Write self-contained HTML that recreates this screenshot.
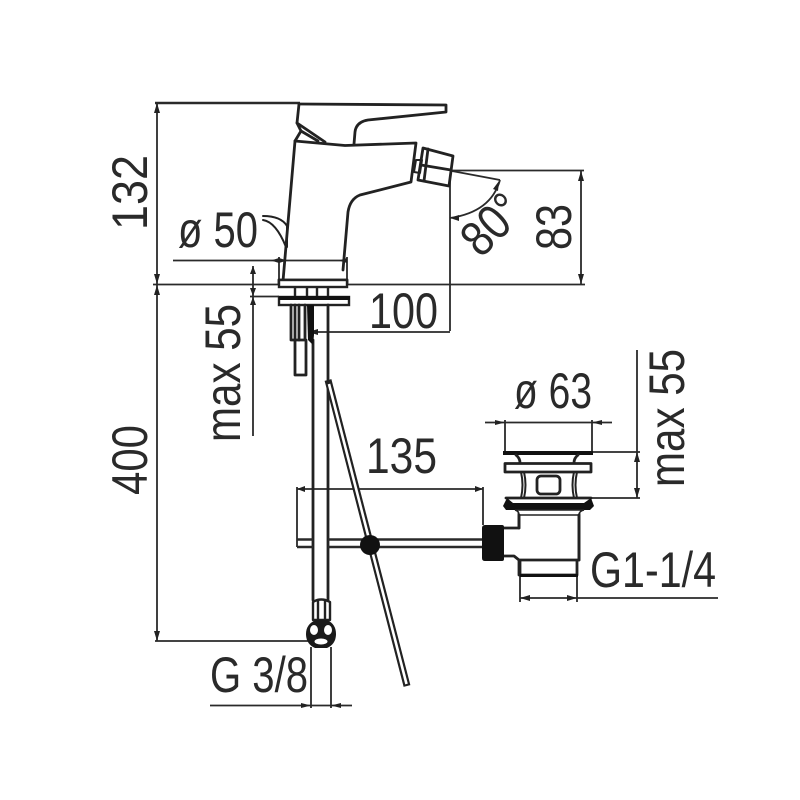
<!DOCTYPE html>
<html><head><meta charset="utf-8"><style>
html,body{margin:0;padding:0;background:#fff}
svg{display:block}
text{font-family:"Liberation Sans",sans-serif;fill:#2a2a2a;font-size:50px}
.d{stroke:#2a2a2a;stroke-width:1.8;fill:none}
.o{stroke:#222;stroke-width:2.8;fill:none;stroke-linejoin:round;stroke-linecap:round}
.w{stroke:#222;stroke-width:2.4;fill:#fff}
</style></head><body>
<svg width="800" height="800" viewBox="0 0 800 800" xmlns="http://www.w3.org/2000/svg">
<!-- dimension lines -->
<g class="d">
<path d="M155 103H300" style="stroke-width:2.6"/>
<path d="M157 103V641"/>
<path d="M153 284.500H585"/>
<path d="M155 641H309"/>
<path d="M450 180V331"/>
<path d="M451 170.500H584"/>
<path d="M581 171V284"/>
<path d="M452 171L500 180"/>
<path d="M500 180Q491 212 450 218"/>
<path d="M173 260.500H347"/>
<path d="M279 257V281M347 257V281"/>
<path d="M253 266V436"/>
<path d="M250 296.500H279"/>
<path d="M315 332H450"/>
<path d="M297 489H483"/>
<path d="M297 487V547M483 487V525"/>
<path d="M485 422.500H612"/>
<path d="M505 420V452M592 420V452"/>
<path d="M593 452H640M577 498H640"/>
<path d="M637 350V498"/>
<path d="M520 575V602M577 575V602"/>
<path d="M520 598H718"/>
<path d="M311 647V708M331 647V708"/>
<path d="M210 705.500H352"/>
</g>
<g fill="#222">
<path d="M157 103L154 113H160zM157 284L154 274H160zM157 285L154 295H160zM157 641L154 631H160zM581 171L578 181H584zM581 284L578 274H584zM318 329L308 332L318 335zM279 258L271 260.500L279 263zM279 258L287 260.500L279 263zM347 258L339 260.500L347 263zM253 266L250 274H256zM253 296L250 288H256zM253 297L250 305H256zM297 489L305 486V492zM483 489L475 486V492zM505 422.500L495 420V425zM592 422.500L602 420V425zM637 452L634 462H640zM637 498L634 488H640zM520 598L530 595V601zM577 598L567 595V601zM311 705.500L301 703V708zM331 705.500L341 703V708zM499 181L493 189L498 191zM450 218L459 215V221z"/>
</g>
<!-- faucet -->
<g class="o">
<path d="M299 104L446 105V112L368 120Q356 122 355 132L354 144"/>
<path d="M299 104L297 123L325 142"/>
<path d="M297 123L301 131L295 141"/>
<path d="M301 131L318 141"/>
<path d="M295 141L345 145.500L416 143L411 182L360 195Q350 199 348 212L343 270"/>
<path d="M295 141L283 281"/>
<path d="M279 284V280H347V284"/>
<path d="M263 216Q281 216 287 226L287 247" style="stroke-width:2"/>
<path d="M263 220Q276 222 286 247" style="stroke-width:2"/>
<path d="M423 148L453 156L449 186L418 180Z" fill="#fff" style="fill:#fff"/>
<path d="M428 149L424 181"/>
<path d="M421 165L451 170"/>
<path d="M416 160L422 160L420 173L414 172Z" style="stroke-width:2"/>
</g>
<g class="w">
<rect x="279" y="280" width="68" height="7"/>
<path d="M295 287V296M307 287V296M317 287V296M328 287V296" fill="none"/>
<rect x="279" y="297" width="70" height="8"/>
</g>
<rect x="279" y="296" width="71" height="4" fill="#111"/>
<g class="o">
<path d="M291 305V340H305V305"/><path d="M295 305V340"/><path d="M299 305V340"/>
<path d="M295 340V375H306V340"/>
<path d="M313 340V600M328 305V600"/>
</g>
<path d="M307 305H314V335L313 345L308 340Z" fill="#111"/>
<!-- lower rod -->
<path d="M328 380L407 686" stroke="#222" stroke-width="7" fill="none"/>
<path d="M329 384L406.500 684" stroke="#fff" stroke-width="2.600" fill="none"/>
<!-- horizontal bar -->
<g class="d" style="stroke-width:2.4"><path d="M297 539.500H313M328 539.500H483M297 547H313M328 547H483"/></g>
<circle cx="370" cy="545" r="10" fill="#111"/>
<!-- hose nut -->
<g class="o" style="stroke-width:2.4">
<path d="M313 602Q321 597 330 602V620H313Z" style="fill:#fff"/>
<path d="M318 600V620M325 600V620"/>
</g>
<path d="M316 620H327Q336 624 336 634Q336 644 327 648H315Q306 644 306 634Q306 624 316 620Z" fill="#1a1a1a"/>
<ellipse cx="314" cy="630" rx="4" ry="5" fill="#fff"/>
<ellipse cx="328" cy="630" rx="4" ry="5" fill="#fff"/>
<ellipse cx="321" cy="641.500" rx="6.500" ry="3" fill="#fff"/>
<!-- drain -->
<rect x="503" y="451" width="90" height="4" fill="#111"/>
<g class="o">
<path d="M516 455Q520 458 520 463M578 455Q574 458 574 463"/>
<rect x="505" y="463.500" width="86" height="8.500" style="fill:#fff"/>
<path d="M521 472Q524 485 521 498M524 472Q527 485 524 498M577 472Q574 485 577 498M574 472Q571 485 574 498" style="stroke-width:2"/>
<rect x="537" y="476" width="23" height="18" rx="4"/>
<path d="M506 498H591"/>
<path d="M519 512V528H504M504 556H514L519 560V575H577V561M579 512V560H519"/>
<path d="M520 575V561"/>
</g>
<path d="M507 498L503 506L506 510H590L594 506L591 498L584 503H513Z" fill="#111"/>
<path d="M520 574H578V577H520Z" fill="#111"/>
<path d="M515 510Q519 511 519 515L579 515Q579 511 584 510Z" fill="#fff" stroke="#222" stroke-width="1.500"/>
<path d="M485 525H502Q504 525 504 527V559Q504 561 502 561H485Q482 561 482 558V528Q482 525 485 525Z" fill="#111"/>
<g class="o"><path d="M519 515V528M579 515V560"/></g>
<!-- labels -->
<text x="178" y="247" textLength="80" lengthAdjust="spacingAndGlyphs">ø 50</text>
<text x="369" y="328" textLength="69" lengthAdjust="spacingAndGlyphs">100</text>
<text x="366" y="473" textLength="71" lengthAdjust="spacingAndGlyphs">135</text>
<text x="514" y="408" textLength="78" lengthAdjust="spacingAndGlyphs">ø 63</text>
<text x="590" y="587" textLength="126" lengthAdjust="spacingAndGlyphs">G1-1/4</text>
<text x="210" y="692" textLength="98" lengthAdjust="spacingAndGlyphs">G 3/8</text>
<text transform="translate(147,230) rotate(-90)" textLength="75" lengthAdjust="spacingAndGlyphs">132</text>
<text transform="translate(147,495) rotate(-90)" textLength="70" lengthAdjust="spacingAndGlyphs">400</text>
<text transform="translate(571,250) rotate(-90)" textLength="46" lengthAdjust="spacingAndGlyphs">83</text>
<text transform="translate(240,442) rotate(-90)" textLength="138" lengthAdjust="spacingAndGlyphs">max 55</text>
<text transform="translate(684,487) rotate(-90)" textLength="138" lengthAdjust="spacingAndGlyphs">max 55</text>
<text transform="translate(481,259) rotate(-45)" textLength="64" lengthAdjust="spacingAndGlyphs">80°</text>
</svg>
</body></html>
